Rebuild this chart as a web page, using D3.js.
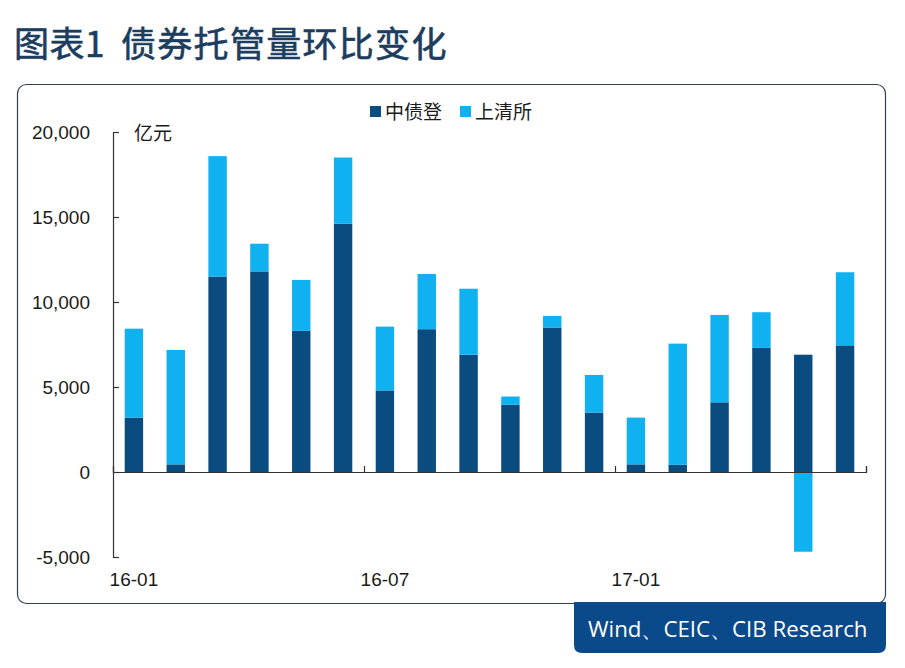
<!DOCTYPE html>
<html>
<head>
<meta charset="utf-8">
<script src="https://cdn.jsdelivr.net/npm/d3@7"></script>
<style>
  html, body { margin: 0; padding: 0; background: #ffffff; }
  svg { display: block; }
</style>
</head>
<body>
<svg id="chart" width="905" height="668"></svg>
<script>
// ---- data ----
const months = ["16-01","16-02","16-03","16-04","16-05","16-06","16-07","16-08","16-09",
                "16-10","16-11","16-12","17-01","17-02","17-03","17-04","17-05","17-06"];
const seriesNames = ["中债登", "上清所"];
const zzd = [3200, 450, 11500, 11800, 8300, 14600, 4800, 8400, 6900,
             3950, 8500, 3500, 450, 420, 4100, 7300, 6900, 7450];
const sqs = [5230, 6730, 7080, 1630, 3000, 3900, 3750, 3250, 3880,
             490, 680, 2210, 2750, 7130, 5140, 2100, -4690, 4300];
const yTicks = [-5000, 0, 5000, 10000, 15000, 20000];
const xLabels = ["16-01", "16-07", "17-01"];
const xTickIdx = [0, 6, 12, 18];
const titleParts = ["图表1", "债券托管量环比变化"];
const unitText = "亿元";
const sourceText = "Wind、CEIC、CIB Research";

// ---- layout ----
const colors = ["#0a4b80", "#0fb1f0"];
const svg = d3.select("#chart");
const plot = { left: 113, right: 866, top: 132, bottom: 557 };
const fmt = d3.formatLocale({ decimal: ".", thousands: ",", grouping: [3], currency: ["", ""], minus: "-" }).format(",");

// title
const title = svg.append("text")
  .attr("y", 57)
  .attr("font-family", "'Noto Sans CJK SC', sans-serif")
  .attr("font-weight", 400)
  .attr("font-size", 35)
  .attr("fill", "#1c3d5e")
  .attr("stroke", "#1c3d5e").attr("stroke-width", 0.6);
title.selectAll("tspan")
  .data(titleParts)
  .join("tspan")
  .attr("x", (d, i) => [14, 121][i])
  .attr("letter-spacing", (d, i) => [0.5, 1.3][i])
  .text(d => d);

// chart frame
svg.append("rect")
  .attr("x", 17.5).attr("y", 84.5)
  .attr("width", 868).attr("height", 519)
  .attr("rx", 9).attr("ry", 9)
  .attr("fill", "#ffffff")
  .attr("stroke", "#2e4250").attr("stroke-width", 1.2);

// source footer
const fx0 = 574, fx1 = 886, fy0 = 602, fy1 = 653, fr = 8;
svg.append("path")
  .attr("d", `M${fx0},${fy0}H${fx1}V${fy1 - fr}Q${fx1},${fy1} ${fx1 - fr},${fy1}H${fx0 + fr}Q${fx0},${fy1} ${fx0},${fy1 - fr}Z`)
  .attr("fill", "#0b4a8a");
const src = svg.append("text")
  .attr("x", 588).attr("y", 637)
  .attr("font-family", "'Liberation Sans Narrow', 'Open Sans', sans-serif")
  .attr("font-size", 26)
  .attr("fill", "#ffffff")
  .text(sourceText);
const w = src.node().getComputedTextLength();
if (w > 0) src.attr("font-size", Math.min(27, 26 * 280 / w));

// scales
const x = d3.scaleBand().domain(months).range([plot.left, plot.right])
  .paddingInner(0.56).paddingOuter(0.28);
const xIdx = d3.scaleLinear().domain([0, months.length]).range([plot.left, plot.right]);
const y = d3.scaleLinear().domain([-5000, 20000]).range([plot.bottom, plot.top]);

// stacked data
const table = months.map((m, i) => ({ month: m, zzd: zzd[i], sqs: sqs[i] }));
const stacked = d3.stack().keys(["zzd", "sqs"]).offset(d3.stackOffsetDiverging)(table);

svg.append("g").selectAll("g")
  .data(stacked)
  .join("g")
  .attr("fill", (d, i) => colors[i])
  .selectAll("rect")
  .data(d => d)
  .join("rect")
  .attr("x", d => x(d.data.month))
  .attr("width", x.bandwidth())
  .attr("y", d => y(Math.max(d[0], d[1])))
  .attr("height", d => Math.abs(y(d[0]) - y(d[1])));

// y axis
const yAxis = svg.append("g")
  .attr("transform", `translate(${plot.left},0)`)
  .call(d3.axisLeft(y).tickValues(yTicks).tickFormat(fmt)
    .tickSizeInner(-6).tickSizeOuter(-6).tickPadding(23));
yAxis.selectAll("path, line").attr("stroke", "#333333").attr("stroke-width", 1.2);
yAxis.selectAll("text")
  .attr("font-family", "'Liberation Sans', Arial, sans-serif")
  .attr("font-size", 19).attr("fill", "#1a1a1a");

// x axis line at zero with ticks
const xAxis = svg.append("g")
  .attr("transform", `translate(0,${y(0)})`)
  .call(d3.axisBottom(xIdx).tickValues(xTickIdx).tickFormat("")
    .tickSizeInner(-6).tickSizeOuter(-6));
xAxis.selectAll("path, line").attr("stroke", "#333333").attr("stroke-width", 1.2);

// x labels
const xLab = svg.append("g")
  .attr("transform", `translate(0,${plot.bottom})`)
  .call(d3.axisBottom(x).tickValues(xLabels).tickSize(0).tickPadding(16));
xLab.select(".domain").remove();
xLab.selectAll("text")
  .attr("font-family", "'Liberation Sans', Arial, sans-serif")
  .attr("font-size", 19).attr("fill", "#1a1a1a");

// unit
svg.append("text")
  .attr("x", 134).attr("y", 140)
  .attr("font-family", "'Noto Sans CJK SC', sans-serif")
  .attr("font-size", 19).attr("fill", "#1a1a1a")
  .text(unitText);

// legend
const legendX = [370, 460];
const lg = svg.append("g").selectAll("g")
  .data(seriesNames)
  .join("g")
  .attr("transform", (d, i) => `translate(${legendX[i]},106)`);
lg.append("rect").attr("width", 11).attr("height", 11).attr("fill", (d, i) => colors[i]);
lg.append("text")
  .attr("x", 15).attr("y", 12.5)
  .attr("font-family", "'Noto Sans CJK SC', sans-serif")
  .attr("font-size", 19).attr("fill", "#1a1a1a")
  .text(d => d);
</script>
</body>
</html>
